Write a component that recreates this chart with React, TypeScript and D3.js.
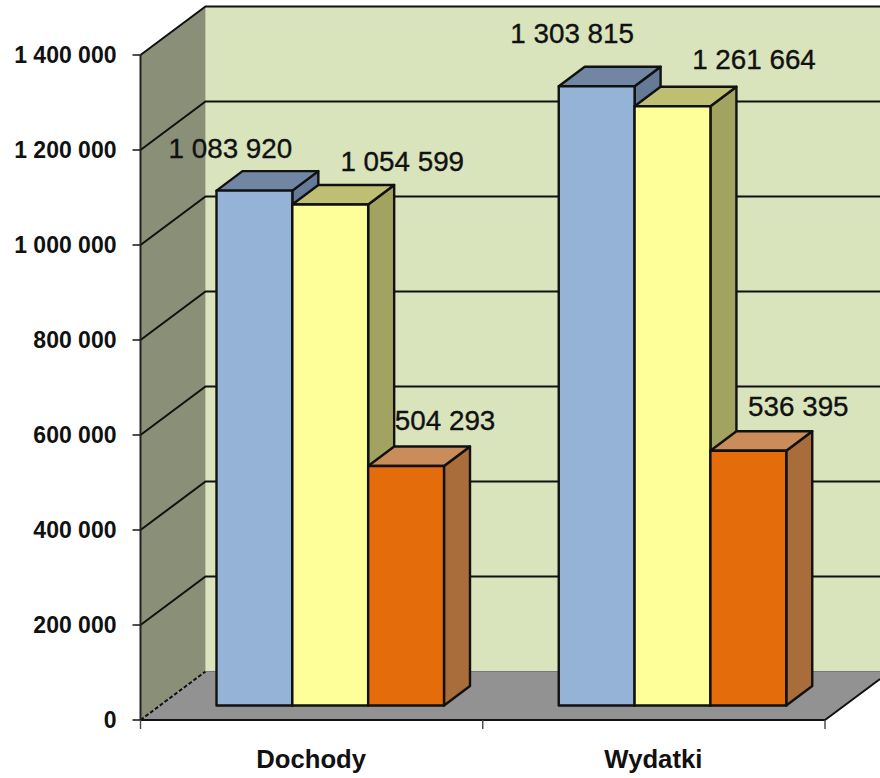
import React from "react";
import * as d3 from "d3";

const categories = ["Dochody", "Wydatki"];
const seriesNames = ["a", "b", "c"];
const seriesValues = [
  [1083920, 1054599, 504293],
  [1303815, 1261664, 536395],
];
const valueLabels = [
  ["1 083 920", "1 054 599", "504 293"],
  ["1 303 815", "1 261 664", "536 395"],
];
const labelOffsets = [
  [[-24, -32.5], [72, -33.5], [39, -36]],
  [[-24.5, -43.5], [81.5, -37.5], [50, -34.5]],
];
const tickValues = [0, 200000, 400000, 600000, 800000, 1000000, 1200000, 1400000];
const tickLabels = ["0", "200 000", "400 000", "600 000", "800 000", "1 000 000", "1 200 000", "1 400 000"];
const frontColors = ["#95B3D7", "#FFFF99", "#E46C0A"];
const topColors = ["#7086A2", "#BFBF73", "#CB8C5C"];
const sideColors = ["#657A96", "#A3A361", "#A96D3B"];

const W = 880, H = 778;
const x0 = 140.5, x1 = 825, yBase = 720, yTop = 55;
const dx = 65, dy = -48.5;
const barInset = { dy: -14.5 };
const barDepth = { dx: 26, dy: -19.5 };
const font = "'Liberation Sans', Arial, sans-serif";

export default function App() {
  const y = d3.scaleLinear().domain([0, 1400000]).range([yBase, yTop]);
  const xCat = d3.scaleBand<string>().domain(categories).range([x0, x1]);
  const bw = xCat.bandwidth();
  const xBar = d3.scaleBand<string>().domain(seriesNames).range([76, 303.5]);
  const h = (v: number) => yBase - y(v);
  const frontBottom = yBase + barInset.dy;
  const line = d3.line();
  const rightY = yBase + dy * ((W - x1) / dx);

  return (
    <svg width={W} height={H} style={{ position: "absolute", left: 0, top: 0 }} fontFamily={font}>
      <rect width={W} height={H} fill="#fff" />
      <rect x={x0 + dx} y={yTop + dy} width={W - x0 - dx} height={yBase - yTop} fill="#D9E3BC" />
      <path d={line([[x0, yBase], [x0, yTop], [x0 + dx, yTop + dy], [x0 + dx, yBase + dy]])!} fill="#8A9078" />
      <path d={line([[x0, yBase], [x0 + dx, yBase + dy], [W, yBase + dy], [W, rightY], [x1, yBase]])! + "Z"} fill="#929292" />
      {tickValues.map((t) =>
        t > 0 ? (
          <path key={t} d={line([[x0, y(t)], [x0 + dx, y(t) + dy], [W, y(t) + dy]])!} fill="none" stroke="#111" strokeWidth={2} />
        ) : null
      )}
      <path d={line([[x0, yBase], [x0 + dx, yBase + dy]])!} stroke="#111" strokeWidth={2} strokeDasharray="4 2" fill="none" />
      <path d={line([[x0 + dx, yBase + dy], [W, yBase + dy]])!} stroke="#777" strokeWidth={1} fill="none" />
      <path d={`M${x0},${yTop}V${yBase}`} stroke="#222" strokeWidth={2} fill="none" />
      <path d={`M${x0},${yBase}H${x1}`} stroke="#111" strokeWidth={2} fill="none" />
      <path d={line([[x1, yBase], [W, rightY]])!} stroke="#111" strokeWidth={2} fill="none" />
      {tickValues.map((t, i) => (
        <g key={t}>
          <path d={`M${x0 - 8},${y(t)}H${x0}`} stroke="#222" strokeWidth={1.6} />
          <text x={116.5} y={y(t) + 8} textAnchor="end" fontSize={23} fontWeight="bold" fill="#111">{tickLabels[i]}</text>
        </g>
      ))}
      {[x0, xCat(categories[1])!, x1].map((t) => (
        <path key={t} d={`M${t},${yBase}V${yBase + 9}`} stroke="#444" strokeWidth={1.4} />
      ))}
      {categories.map((c) => (
        <text key={c} x={xCat(c)! + bw / 2 - 0.5} y={768} textAnchor="middle" fontSize={25.7} fontWeight="bold" fill="#111">{c}</text>
      ))}
      {categories.map((c, ci) =>
        seriesNames.map((s, si) => {
          const v = seriesValues[ci][si];
          const bx = xCat(c)! + xBar(s)!;
          const bwid = xBar.bandwidth();
          const top = frontBottom - h(v);
          return (
            <g key={c + s} stroke="#111" strokeWidth={2.4} strokeLinejoin="round">
              <path d={line([[bx + bwid, top], [bx + bwid + barDepth.dx, top + barDepth.dy], [bx + bwid + barDepth.dx, frontBottom + barDepth.dy], [bx + bwid, frontBottom]])! + "Z"} fill={sideColors[si]} />
              <path d={line([[bx, top], [bx + barDepth.dx, top + barDepth.dy], [bx + bwid + barDepth.dx, top + barDepth.dy], [bx + bwid, top]])! + "Z"} fill={topColors[si]} />
              <rect x={bx} y={top} width={bwid} height={h(v)} fill={frontColors[si]} />
            </g>
          );
        })
      )}
      {categories.map((c, ci) =>
        seriesNames.map((s, si) => {
          const v = seriesValues[ci][si];
          const bx = xCat(c)! + xBar(s)!;
          const top = frontBottom - h(v);
          const [ox, oy] = labelOffsets[ci][si];
          return (
            <text key={c + s} x={bx + xBar.bandwidth() / 2 + ox} y={top + oy} textAnchor="middle" fontSize={27.8} fill="#111" stroke="#111" strokeWidth={0.35}>{valueLabels[ci][si]}</text>
          );
        })
      )}
    </svg>
  );
}
